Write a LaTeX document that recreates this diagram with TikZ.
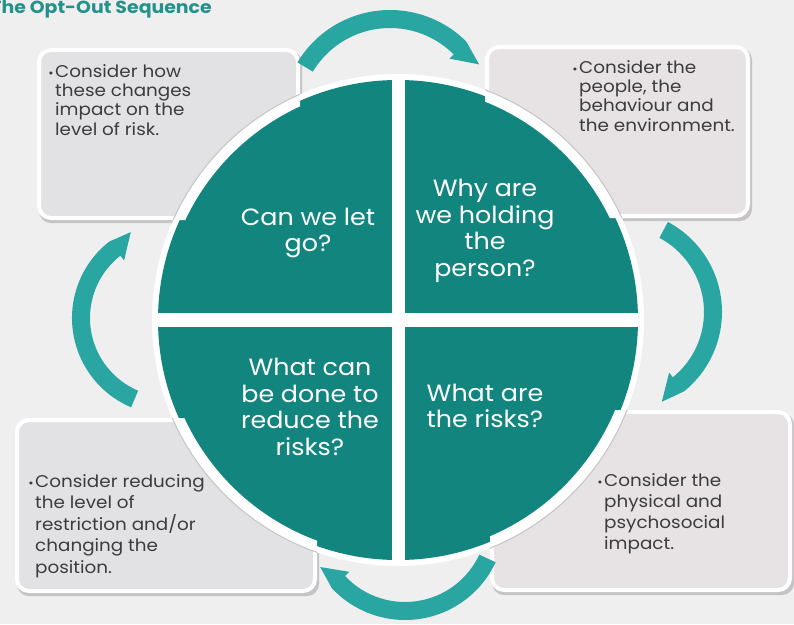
\documentclass[tikz,border=0pt]{standalone}
\usepackage{fontspec}
\setmainfont{Poppins}
\newfontfamily\widesans[FakeStretch=1.08]{Poppins}
\usetikzlibrary{calc}

\definecolor{pagebg}{HTML}{EFEFF0}
\definecolor{quadteal}{HTML}{12857F}
\definecolor{arrowteal}{HTML}{2AA6A2}
\definecolor{titleteal}{HTML}{24918B}
\definecolor{boxgrey}{HTML}{E2E1E4}
\definecolor{boxpink}{HTML}{E7E2E3}
\definecolor{boxshade}{HTML}{C4C3C6}
\definecolor{notegrey}{HTML}{3C3C3E}

\tikzset{
  notebox/.style={draw=white, line width=4pt, rounded corners=12pt, inner sep=0pt},
  qtext/.style={text=white, align=center, inner sep=0pt,
    font=\widesans\fontsize{23.5}{26.7}\selectfont},
  notetext/.style={text=notegrey, align=left, inner sep=0pt, anchor=north west},
  cyclearrow/.style={fill=arrowteal},
}

% bullet hanging to the left of the first line
\newcommand\bulletmark{\llap{{\fontsize{12}{12}\selectfont •}\hspace{1.5pt}}}

% circular arrow: centre, inner r, outer r, tail angle, head base angle,
% tip angle, tip radius, barb radius
\newcommand\cyclearrowpath[8]{%
  \fill[cyclearrow] ($(#1)+(#4:#3)$) arc[start angle=#4, end angle=#5, radius=#3]
    -- ($(#1)+(#6:#7)$) -- ($(#1)+(#5:#8)$) -- ($(#1)+(#5:#2)$)
    arc[start angle=#5, end angle=#4, radius=#2] -- cycle;}

\begin{document}
\begin{tikzpicture}[x=1pt, y=-1pt]
\useasboundingbox (0,0) rectangle (794,624);
\clip (0,0) rectangle (794,624);
\fill[pagebg] (0,0) rectangle (794,624);

% corner boxes: drop shade, then the box itself
\fill[boxshade, rounded corners=12pt] (39,51) rectangle (302,223);
\fill[boxshade, rounded corners=12pt] (487,48) rectangle (752,221);
\fill[boxshade, rounded corners=12pt] (17,421) rectangle (319,596);
\fill[boxshade, rounded corners=12pt] (492,413) rectangle (794,595);
\node[notebox, fill=boxgrey, minimum width=259pt, minimum height=168pt] (tlbox) at (168.5,134) {};
\node[notebox, fill=boxpink, minimum width=261pt, minimum height=169pt] (trbox) at (617.5,131.5) {};
\node[notebox, fill=boxgrey, minimum width=298pt, minimum height=171pt] (blbox) at (166,505.5) {};
\node[notebox, fill=boxpink, minimum width=298pt, minimum height=178pt] (brbox) at (641,501) {};

% central disc with its white rim
\coordinate (ctr) at (398,320);
\fill[white] (ctr) circle[radius=246];
\fill[quadteal] (ctr) circle[radius=240];
\begin{scope}
  \clip (tlbox.north west) rectangle (tlbox.south east)
        (trbox.north west) rectangle (trbox.south east)
        (blbox.north west) rectangle (blbox.south east)
        (brbox.north west) rectangle (brbox.south east);
  \fill[white, even odd rule] (ctr) circle[radius=245] (ctr) circle[radius=235];
  \draw[boxshade, line width=1pt] (ctr) circle[radius=246];
\end{scope}
% gaps splitting the disc into quarters
\begin{scope}
  \clip (ctr) circle[radius=241];
  \fill[white] (392,70) rectangle (405,570);
  \fill[white] (150,313) rectangle (650,327);
\end{scope}

% quarter questions
\node[qtext] (qtl) at (308,233) {Can we let\\go?};
\node[qtext] (qtr) at (485,231) {Why are\\we holding\\the\\person?};
\node[qtext] (qbl) at (310,407) {What can\\be done to\\reduce the\\risks?};
\node[qtext] (qbr) at (485,406) {What are\\the risks?};

% notes in the corner boxes
\node[notetext, font=\widesans\fontsize{17}{19.3}\selectfont] (ntl) at (55,64)
  {\bulletmark Consider how\\these changes\\impact on the\\level of risk.};
\node[notetext, font=\widesans\fontsize{17}{19.3}\selectfont] (ntr) at (579,60)
  {\bulletmark Consider the\\people, the\\behaviour and\\the environment.};
\node[notetext, font=\widesans\fontsize{17}{21.5}\selectfont] (nbl) at (35,474)
  {\bulletmark Consider reducing\\the level of\\restriction and/or\\changing the\\position.};
\node[notetext, font=\widesans\fontsize{17}{21}\selectfont] (nbr) at (604,473)
  {\bulletmark Consider the\\physical and\\psychosocial\\impact.};

% cycle arrows between the boxes
\cyclearrowpath{390,118}{90}{108}{-149}{-45}{-31}{104}{84}
\cyclearrowpath{620,312}{84}{102}{-62}{51}{65}{99}{78}
\cyclearrowpath{405,520}{82}{100}{25}{137}{151}{97}{76}
\cyclearrowpath{169,318}{79}{97}{113}{232}{246}{94}{73}

% heading, running off the left edge
\node[anchor=base east, inner sep=0pt, text=titleteal,
  font=\widesans\fontsize{17.5}{17.5}\bfseries\selectfont] (title) at (212,13) {The Opt-Out Sequence};
\end{tikzpicture}
\end{document}
